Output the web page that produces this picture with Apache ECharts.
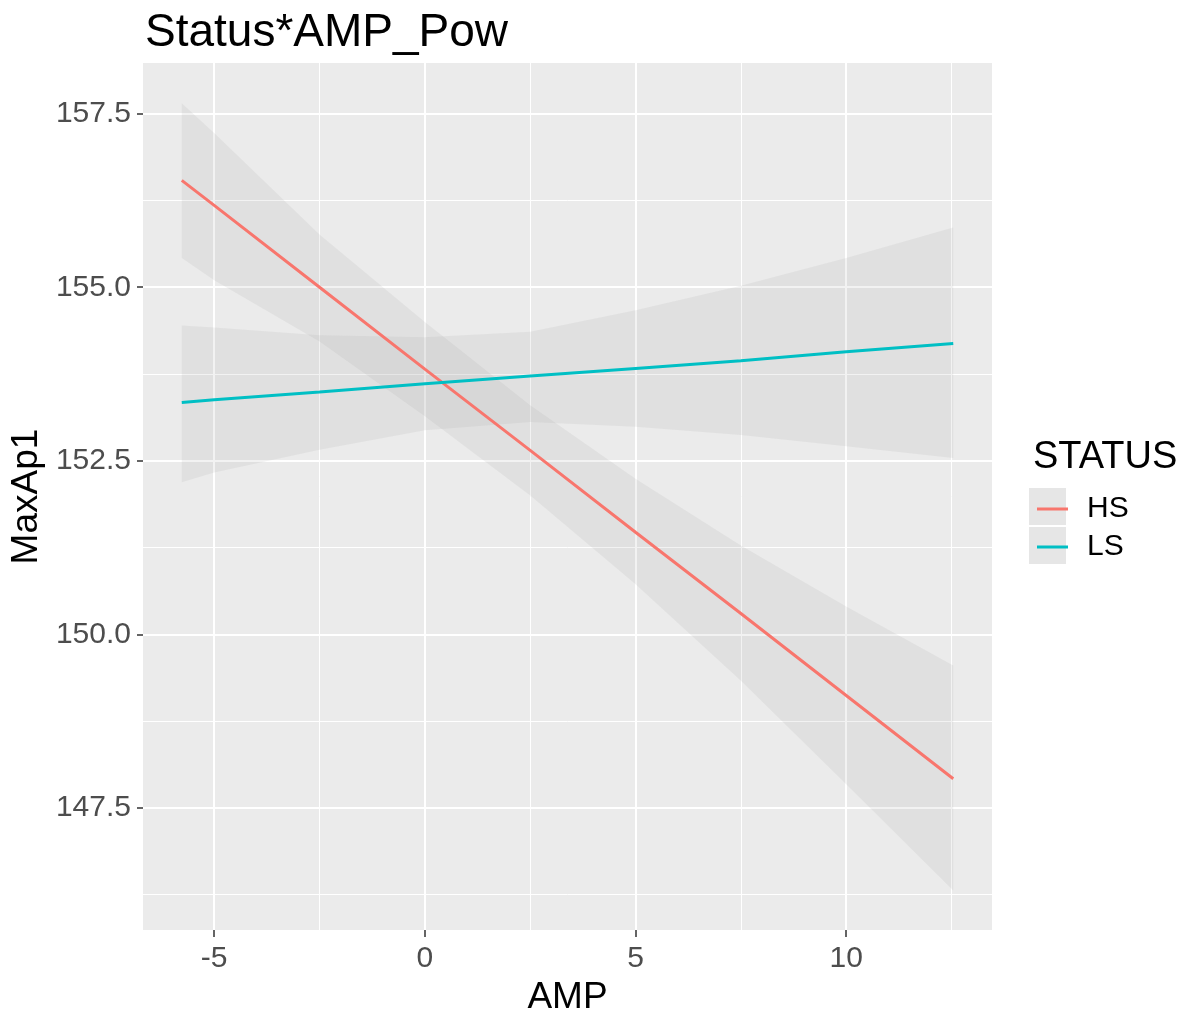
<!DOCTYPE html>
<html>
<head>
<meta charset="utf-8">
<script src="https://cdn.jsdelivr.net/npm/echarts@6/dist/echarts.min.js"></script>
<style>
  html, body { margin: 0; padding: 0; background: #ffffff; }
  #chart { width: 1188px; height: 1021px; }
</style>
</head>
<body>
<div id="chart"></div>
<script>
// ---- data ----
const ampValues = [-5.77, -5, -2.5, 0, 2.5, 5, 7.5, 10, 12.54];

const hsFit   = [156.54, 156.18, 155.00, 153.82, 152.65, 151.47, 150.30, 149.12, 147.92];
const hsLower = [155.42, 155.10, 154.22, 153.14, 152.00, 150.72, 149.33, 147.84, 146.31];
const hsUpper = [157.65, 157.22, 155.76, 154.50, 153.30, 152.24, 151.28, 150.40, 149.55];

const lsFit   = [153.34, 153.38, 153.49, 153.61, 153.72, 153.83, 153.94, 154.07, 154.19];
const lsLower = [152.19, 152.33, 152.66, 152.94, 153.06, 152.99, 152.87, 152.71, 152.54];
const lsUpper = [154.45, 154.42, 154.31, 154.28, 154.36, 154.67, 155.02, 155.42, 155.86];

const seriesNames = ['HS', 'LS'];
const xMajorTicks = [-5, 0, 5, 10];
const xMinorTicks = [-2.5, 2.5, 7.5, 12.5];
const yMajorTicks = [147.5, 150.0, 152.5, 155.0, 157.5];
const yMinorTicks = [146.25, 148.75, 151.25, 153.75, 156.25];

// ---- chart ----
const FONT = '"Liberation Sans", Arial, sans-serif';
const COLORS = { HS: '#F8766D', LS: '#00BFC4' };
const X_MIN = -6.69, X_MAX = 13.46;
const Y_MIN = 145.74, Y_MAX = 158.23;

function pairs(xs, ys) { return xs.map((x, i) => [x, ys[i]]); }

function bandSeries(name, lower, upper) {
  return {
    type: 'custom',
    name: name + ' band',
    xAxisIndex: 0, yAxisIndex: 0,
    clip: true,
    silent: true,
    z: 1,
    data: ampValues.map((x, i) => [x, lower[i], upper[i]]),
    encode: { x: 0, y: [1, 2] },
    renderItem: function (params, api) {
      if (params.dataIndex !== 0) return null;
      const pts = [];
      for (let i = 0; i < ampValues.length; i++) pts.push(api.coord([ampValues[i], upper[i]]));
      for (let i = ampValues.length - 1; i >= 0; i--) pts.push(api.coord([ampValues[i], lower[i]]));
      return {
        type: 'polygon',
        shape: { points: pts },
        style: { fill: 'rgba(153,153,153,0.13)', stroke: null }
      };
    }
  };
}

function lineSeries(name, fit) {
  return {
    type: 'line',
    name: name,
    xAxisIndex: 0, yAxisIndex: 0,
    data: pairs(ampValues, fit),
    showSymbol: false,
    symbol: 'none',
    lineStyle: { color: COLORS[name], width: 3 },
    itemStyle: { color: COLORS[name] },
    z: 3
  };
}

const chart = echarts.init(document.getElementById('chart'), null, { renderer: 'canvas' });

chart.setOption({
  animation: false,
  backgroundColor: '#ffffff',
  textStyle: { fontFamily: FONT },
  title: [
    {
      text: 'Status*AMP_Pow',
      left: 140, top: 5,
      textStyle: { fontSize: 46, fontWeight: 'normal', color: '#000', fontFamily: FONT }
    },
    {
      text: 'STATUS',
      left: 1028, top: 434,
      textStyle: { fontSize: 38, fontWeight: 'normal', color: '#000', fontFamily: FONT }
    }
  ],
  legend: {
    orient: 'vertical',
    left: 1032, top: 485,
    data: seriesNames,
    icon: 'rect',
    itemWidth: 31, itemHeight: 3,
    itemGap: 0,
    textStyle: { fontSize: 30, color: '#000', fontFamily: FONT, lineHeight: 38, padding: [0, 0, 0, 14] },
    selectedMode: false
  },
  graphic: [
    { type: 'rect', left: 1029, top: 488, shape: { width: 37, height: 37 }, style: { fill: '#E6E6E6' }, z: -1, silent: true },
    { type: 'rect', left: 1029, top: 527, shape: { width: 37, height: 37 }, style: { fill: '#E6E6E6' }, z: -1, silent: true }
  ],
  grid: {
    left: 143, top: 63, width: 849, height: 872,
    show: true, backgroundColor: '#EBEBEB', borderWidth: 0,
    containLabel: false
  },
  xAxis: [
    {
      type: 'value', min: X_MIN, max: X_MAX, position: 'bottom',
      axisLine: { show: false, onZero: false },
      axisTick: { show: true, length: 7, lineStyle: { color: '#333333', width: 1.5 }, customValues: xMajorTicks },
      axisLabel: { customValues: xMajorTicks, color: '#4D4D4D', fontSize: 30, margin: 14, fontFamily: FONT },
      splitLine: { show: true, lineStyle: { color: '#ffffff', width: 2 } },
      name: 'AMP', nameLocation: 'middle', nameGap: 46,
      nameTextStyle: { fontSize: 37, color: '#000', fontFamily: FONT }
    },
    {
      type: 'value', min: X_MIN, max: X_MAX, position: 'bottom',
      axisLine: { show: false, onZero: false },
      axisTick: { show: false, customValues: xMinorTicks },
      axisLabel: { show: false, customValues: xMinorTicks },
      splitLine: { show: true, lineStyle: { color: '#ffffff', width: 1 } }
    }
  ],
  yAxis: [
    {
      type: 'value', min: Y_MIN, max: Y_MAX, position: 'left',
      axisLine: { show: false, onZero: false },
      axisTick: { show: true, length: 6, lineStyle: { color: '#333333', width: 1.5 }, customValues: yMajorTicks },
      axisLabel: { customValues: yMajorTicks, color: '#4D4D4D', fontSize: 30, margin: 12, fontFamily: FONT,
                   formatter: v => Number(v).toFixed(1) },
      splitLine: { show: true, lineStyle: { color: '#ffffff', width: 2 } },
      name: 'MaxAp1', nameLocation: 'middle', nameRotate: 90, nameGap: 96,
      nameTextStyle: { fontSize: 37, color: '#000', fontFamily: FONT }
    },
    {
      type: 'value', min: Y_MIN, max: Y_MAX, position: 'left',
      axisLine: { show: false, onZero: false },
      axisTick: { show: false, customValues: yMinorTicks },
      axisLabel: { show: false, customValues: yMinorTicks },
      splitLine: { show: true, lineStyle: { color: '#ffffff', width: 1 } }
    }
  ],
  series: [
    bandSeries('HS', hsLower, hsUpper),
    bandSeries('LS', lsLower, lsUpper),
    lineSeries('HS', hsFit),
    lineSeries('LS', lsFit)
  ]
});
</script>
</body>
</html>
